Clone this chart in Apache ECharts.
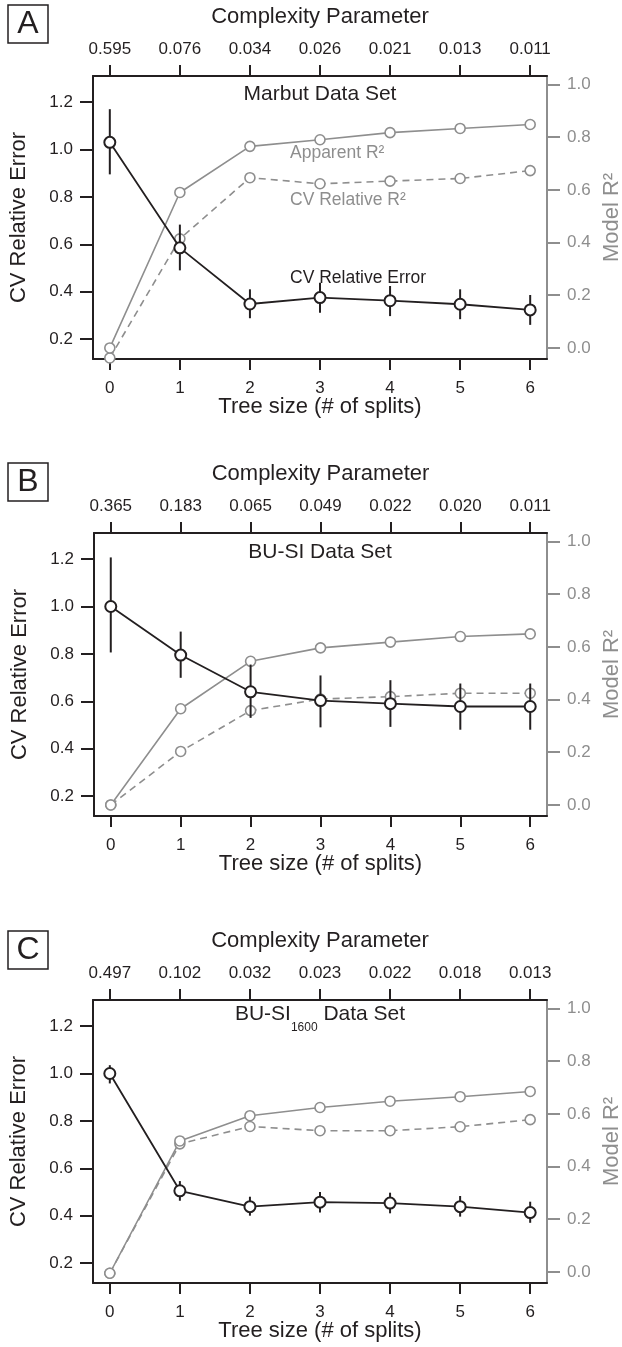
<!DOCTYPE html>
<html>
<head>
<meta charset="utf-8">
<script src="https://cdn.jsdelivr.net/npm/echarts@6/dist/echarts.min.js"></script>
<style>
html, body { margin: 0; padding: 0; background: #fff; }
#chart { width: 622px; height: 1347px; }
</style>
</head>
<body>
<div id="chart"></div>
<script>
// tree size (# of splits), shared by all three panels
var treeSize = [0, 1, 2, 3, 4, 5, 6];

// complexity parameter labels (top axis)
var cpMarbut = ['0.595', '0.076', '0.034', '0.026', '0.021', '0.013', '0.011'];
var cpBusi = ['0.365', '0.183', '0.065', '0.049', '0.022', '0.020', '0.011'];
var cpBusi1600 = ['0.497', '0.102', '0.032', '0.023', '0.022', '0.018', '0.013'];

// A - Marbut
var errMarbut = [1.03, 0.585, 0.348, 0.375, 0.362, 0.347, 0.323];
var errLoMarbut = [0.895, 0.49, 0.288, 0.311, 0.297, 0.284, 0.26];
var errHiMarbut = [1.17, 0.683, 0.41, 0.438, 0.424, 0.41, 0.386];
var appR2Marbut = [0.0, 0.59, 0.765, 0.79, 0.817, 0.833, 0.848];
var cvR2Marbut = [-0.038, 0.414, 0.646, 0.623, 0.633, 0.643, 0.673];

// B - BU-SI
var errBusi = [1.0, 0.795, 0.64, 0.603, 0.59, 0.578, 0.578];
var errLoBusi = [0.806, 0.699, 0.53, 0.49, 0.492, 0.48, 0.48];
var errHiBusi = [1.207, 0.894, 0.755, 0.709, 0.689, 0.675, 0.675];
var appR2Busi = [0.0, 0.365, 0.545, 0.596, 0.618, 0.639, 0.649];
var cvR2Busi = [0.0, 0.203, 0.358, 0.402, 0.411, 0.424, 0.424];

// C - BU-SI 1600
var errBusi1600 = [1.0, 0.505, 0.438, 0.457, 0.453, 0.438, 0.413];
var errLoBusi1600 = [0.958, 0.463, 0.40, 0.413, 0.41, 0.396, 0.37];
var errHiBusi1600 = [1.035, 0.546, 0.48, 0.50, 0.497, 0.483, 0.459];
var appR2Busi1600 = [-0.005, 0.497, 0.593, 0.624, 0.648, 0.665, 0.685];
var cvR2Busi1600 = [-0.005, 0.486, 0.552, 0.536, 0.536, 0.551, 0.578];

var errTicks = [0.2, 0.4, 0.6, 0.8, 1.0, 1.2];
var r2Ticks = [0, 0.2, 0.4, 0.6, 0.8, 1.0];

var BLACK = '#231f20';
var GRAY = '#8e8e8e';
var FONT = 'Liberation Sans, Arial, sans-serif';

var panels = [
  {top: 76, left: 93, cp: cpMarbut, err: errMarbut, lo: errLoMarbut, hi: errHiMarbut, app: appR2Marbut, cv: cvR2Marbut},
  {top: 533, left: 94, cp: cpBusi, err: errBusi, lo: errLoBusi, hi: errHiBusi, app: appR2Busi, cv: cvR2Busi},
  {top: 1000, left: 93, cp: cpBusi1600, err: errBusi1600, lo: errLoBusi1600, hi: errHiBusi1600, app: appR2Busi1600, cv: cvR2Busi1600}
];

function pairs(ys) {
  return treeSize.map(function (x, i) { return [x, ys[i]]; });
}

var grids = [], xAxes = [], yAxes = [], series = [];

panels.forEach(function (p, i) {
  grids.push({left: p.left, top: p.top, width: 547 - p.left, height: 283, show: false, outerBoundsMode: 'none'});

  // bottom axis
  xAxes.push({
    type: 'value', gridIndex: i, position: 'bottom', min: -0.24, max: 6.24,
    axisLine: {show: true, onZero: false, lineStyle: {color: BLACK, width: 2}},
    axisTick: {show: true, customValues: treeSize, length: 11, lineStyle: {color: BLACK, width: 2}},
    axisLabel: {customValues: treeSize, margin: 21, fontSize: 17, color: BLACK, fontFamily: FONT},
    splitLine: {show: false},
    name: 'Tree size (# of splits)', nameLocation: 'middle', nameGap: 37, nameMoveOverlap: false,
    nameTextStyle: {fontSize: 22, color: BLACK, fontFamily: FONT}
  });
  // top axis: complexity parameter
  xAxes.push({
    type: 'value', gridIndex: i, position: 'top', min: -0.24, max: 6.24,
    axisLine: {show: true, onZero: false, lineStyle: {color: BLACK, width: 2}},
    axisTick: {show: true, customValues: treeSize, length: 11, lineStyle: {color: BLACK, width: 2}},
    axisLabel: {
      customValues: treeSize, margin: 18, fontSize: 17, color: BLACK, fontFamily: FONT,
      formatter: (function (cp) { return function (v) { return cp[Math.round(v)]; }; })(p.cp)
    },
    splitLine: {show: false},
    name: 'Complexity Parameter', nameLocation: 'middle', nameGap: 48, nameMoveOverlap: false,
    nameTextStyle: {fontSize: 22, color: BLACK, fontFamily: FONT}
  });

  yAxes.push({
    type: 'value', gridIndex: i, position: 'left', min: 0.116, max: 1.31,
    axisLine: {show: true, onZero: false, lineStyle: {color: BLACK, width: 2}},
    axisTick: {show: true, customValues: errTicks, length: 13, lineStyle: {color: BLACK, width: 2}},
    axisLabel: {customValues: errTicks, margin: 20, fontSize: 17, color: BLACK, fontFamily: FONT,
      formatter: function (v) { return v.toFixed(1); }},
    splitLine: {show: false},
    name: 'CV Relative Error', nameLocation: 'middle', nameGap: 63, nameRotate: 90, nameMoveOverlap: false,
    nameTextStyle: {fontSize: 22, color: BLACK, fontFamily: FONT}
  });
  yAxes.push({
    type: 'value', gridIndex: i, position: 'right', min: -0.042, max: 1.032,
    axisLine: {show: true, onZero: false, lineStyle: {color: GRAY, width: 2}},
    axisTick: {show: true, customValues: r2Ticks, length: 13, lineStyle: {color: GRAY, width: 2}},
    axisLabel: {customValues: r2Ticks, margin: 20, fontSize: 17, color: GRAY, fontFamily: FONT,
      formatter: function (v) { return v.toFixed(1); }},
    splitLine: {show: false},
    name: 'Model R²', nameLocation: 'middle', nameGap: 54, nameRotate: 90, nameMoveOverlap: false,
    nameTextStyle: {fontSize: 22, color: GRAY, fontFamily: FONT}
  });

  var xi = 2 * i, yl = 2 * i, yr = 2 * i + 1;

  series.push({
    type: 'line', xAxisIndex: xi, yAxisIndex: yr, data: pairs(p.cv), z: 2,
    symbol: 'circle', symbolSize: 10,
    itemStyle: {color: '#fff', borderColor: GRAY, borderWidth: 1.6},
    lineStyle: {color: GRAY, width: 1.6, type: [7, 5]}
  });
  series.push({
    type: 'line', xAxisIndex: xi, yAxisIndex: yr, data: pairs(p.app), z: 2,
    symbol: 'circle', symbolSize: 10,
    itemStyle: {color: '#fff', borderColor: GRAY, borderWidth: 1.6},
    lineStyle: {color: GRAY, width: 1.6}
  });
  series.push({
    type: 'custom', xAxisIndex: xi, yAxisIndex: yl, z: 3,
    data: treeSize.map(function (x, k) { return [x, p.lo[k], p.hi[k]]; }),
    encode: {x: 0, y: [1, 2]},
    renderItem: function (params, api) {
      var a = api.coord([api.value(0), api.value(1)]);
      var b = api.coord([api.value(0), api.value(2)]);
      return {type: 'line', shape: {x1: a[0], y1: a[1], x2: b[0], y2: b[1]},
        style: {stroke: BLACK, lineWidth: 2}};
    }
  });
  series.push({
    type: 'line', xAxisIndex: xi, yAxisIndex: yl, data: pairs(p.err), z: 4,
    symbol: 'circle', symbolSize: 11,
    itemStyle: {color: '#fff', borderColor: BLACK, borderWidth: 2},
    lineStyle: {color: BLACK, width: 1.8}
  });
});

function panelLabel(letter, y) {
  return [
    {type: 'rect', shape: {x: 8, y: y, width: 40, height: 38}, style: {fill: 'none', stroke: BLACK, lineWidth: 1.5}},
    {type: 'text', x: 28, y: y + 19, style: {text: letter, fontSize: 32, fontFamily: FONT, fill: BLACK, align: 'center', verticalAlign: 'middle'}}
  ];
}

function plainText(str, x, y, size, color, align) {
  return {type: 'text', x: x, y: y, style: {text: str, fontSize: size, fontFamily: FONT, fill: color, align: align, verticalAlign: 'middle'}};
}

var graphics = [].concat(
  panelLabel('A', 5), panelLabel('B', 463), panelLabel('C', 931),
  [
    plainText('Marbut Data Set', 320, 94, 21, BLACK, 'center'),
    plainText('BU-SI Data Set', 320, 552, 21, BLACK, 'center'),
    {type: 'text', x: 320, y: 1004, style: {
      text: '{m|BU-SI}{s|1600}{m| Data Set}', fontFamily: FONT, fill: BLACK, align: 'center', verticalAlign: 'top',
      rich: {
        m: {fontSize: 21, lineHeight: 24, verticalAlign: 'top', fontFamily: FONT, fill: BLACK},
        s: {fontSize: 12, lineHeight: 12, verticalAlign: 'top', padding: [18, 0, 0, 0], fontFamily: FONT, fill: BLACK}
      }}},
    plainText('Apparent R²', 290, 153, 17.5, GRAY, 'left'),
    plainText('CV Relative R²', 290, 200, 17.5, GRAY, 'left'),
    plainText('CV Relative Error', 290, 278, 17.5, BLACK, 'left')
  ]
);

var chart = echarts.init(document.getElementById('chart'));
chart.setOption({
  animation: false,
  textStyle: {fontFamily: FONT},
  grid: grids,
  xAxis: xAxes,
  yAxis: yAxes,
  series: series,
  graphic: graphics
});
</script>
</body>
</html>
